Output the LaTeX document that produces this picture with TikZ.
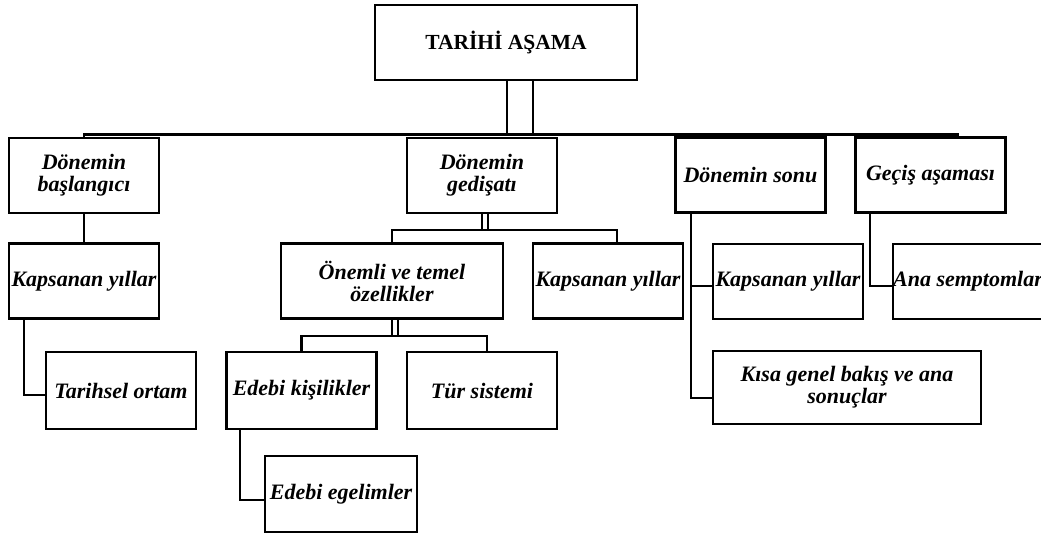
\documentclass[tikz,border=0pt]{standalone}
\usepackage{fontspec}
\setmainfont{Liberation Serif}
\usetikzlibrary{calc}

\tikzset{
  kutu/.style={draw, line width=2.6pt, minimum width=150, minimum height=75,
    inner sep=0pt, align=center,
    font=\bfseries\itshape\fontsize{22}{22}\selectfont},
  bag/.style={line width=2.4pt},
  ince/.style={line width=2pt}
}

\begin{document}
\begin{tikzpicture}[x=1pt,y=-1pt]
  \useasboundingbox (0,0) rectangle (1041,534);
  % top
  \node[kutu, minimum width=262, font=\bfseries\fontsize{21.5}{22}\selectfont] (tarih) at (506,42.5) {TAR\.IH\.I AŞAMA};
  % first row
  \node[kutu] (bas) at (84,175.5) {Dönemin\\başlangıcı};
  \node[kutu] (gedis) at (482,175.5) {Dönemin\\gedişatı};
  \node[kutu] (son) at (750.5,175) {Dönemin sonu};
  \node[kutu] (gecis) at (930.5,175) {Geçiş aşaması};
  % second row
  \node[kutu] (kap1) at (84,281) {Kapsanan yıllar};
  \node[kutu, minimum width=222] (onemli) at (392,281) {Önemli ve temel\\özellikler};
  \node[kutu] (kap2) at (608,281) {Kapsanan yıllar};
  \node[kutu] (kap3) at (788,281.5) {Kapsanan yıllar};
  \node[kutu] (ana) at (968,281.5) {Ana semptomlar};
  % third row
  \node[kutu, minimum height=77] (ortam) at (121,390.5) {Tarihsel ortam};
  \node[kutu, minimum height=77] (kisi) at (301.5,390.5) {Edebi kişilikler};
  \node[kutu, minimum height=77] (tur) at (482,390.5) {Tür sistemi};
  \node[kutu, minimum width=268, minimum height=73] (kisa) at (847,387.5) {Kısa genel bakış ve ana\\sonuçlar};
  \node[kutu, minimum width=152, minimum height=76] (egilim) at (341,494) {Edebi egelimler};

  % connectors
  \coordinate (bar) at (0,134.5);
  \coordinate (barson) at (959,134.5);
  \draw[ince] ($(tarih.south)+(1,0)$) -- ($(tarih.south |- bar)+(1,0)$);
  \draw[ince] ($(tarih.south)+(27,0)$) -- ($(tarih.south |- bar)+(27,0)$);
  \draw[bag] (bas.north) -- (bas.north |- bar) -- (barson);
  \draw[bag] (bas.south) -- (kap1.north);

  \coordinate (gbar) at (0,230);
  \draw[ince] (gedis.south) -- (gedis.south |- gbar);
  \draw[ince] ($(gedis.south)+(6,0)$) -- ($(gedis.south |- gbar)+(6,0)$);
  \draw[bag] (onemli.north) -- (onemli.north |- gbar) -- ($(kap2.north |- gbar)+(9,0)$) -- ($(kap2.north)+(9,0)$);

  \coordinate (obar) at (0,336);
  \draw[ince] (onemli.south) -- (onemli.south |- obar);
  \draw[ince] ($(onemli.south)+(6,0)$) -- ($(onemli.south |- obar)+(6,0)$);
  \draw[bag] (kisi.north) -- (kisi.north |- obar) -- ($(tur.north |- obar)+(5,0)$) -- ($(tur.north)+(5,0)$);

  \coordinate (sonx) at ($(son.south west)+(17,0)$);
  \draw[bag] ($(kap1.south west)+(16,0)$) |- ($(ortam.west)+(0,4.5)$);
  \draw[bag] ($(kisi.south west)+(15,0)$) |- ($(egilim.west)+(0,6)$);
  \draw[bag] (sonx) |- ($(kisa.west)+(0,10.5)$);
  \draw[bag] ($(sonx |- kap3.west)+(0,4.5)$) -- ($(kap3.west)+(0,4.5)$);
  \draw[bag] ($(gecis.south west)+(16,0)$) |- ($(ana.west)+(0,4.5)$);
\end{tikzpicture}
\end{document}
